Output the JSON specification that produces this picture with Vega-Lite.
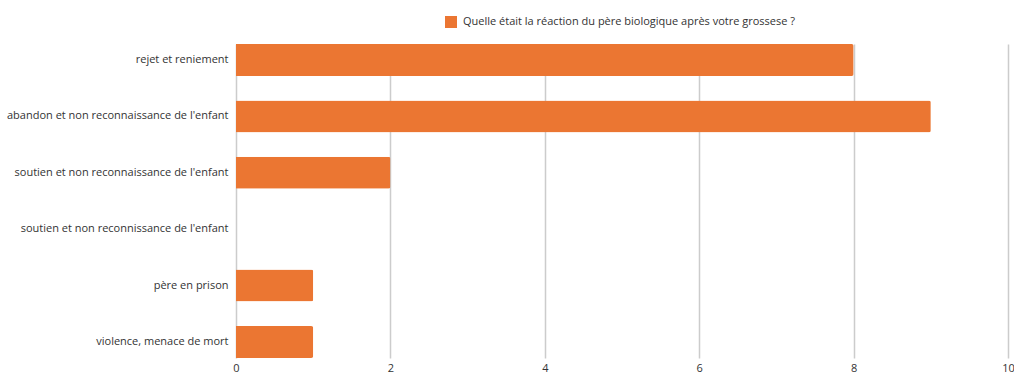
{
  "$schema": "https://vega.github.io/schema/vega-lite/v6.json",
  "width": 772,
  "height": 314,
  "autosize": {"type": "none"},
  "padding": {"left": 236, "top": 44, "right": 6, "bottom": 14},
  "background": "white",
  "config": {
    "font": "Open Sans",
    "view": {"stroke": null}
  },
  "data": {
    "values": [
      {"reponse": "rejet et reniement", "n": 8, "serie": "Quelle était la réaction du père biologique après votre grossese ?"},
      {"reponse": "abandon et non reconnaissance de l'enfant", "n": 9, "serie": "Quelle était la réaction du père biologique après votre grossese ?"},
      {"reponse": "soutien et non reconnaissance de l'enfant", "n": 2, "serie": "Quelle était la réaction du père biologique après votre grossese ?"},
      {"reponse": "soutien et non reconnissance de l'enfant", "n": 0, "serie": "Quelle était la réaction du père biologique après votre grossese ?"},
      {"reponse": "père en prison", "n": 1, "serie": "Quelle était la réaction du père biologique après votre grossese ?"},
      {"reponse": "violence, menace de mort", "n": 1, "serie": "Quelle était la réaction du père biologique après votre grossese ?"}
    ]
  },
  "mark": {"type": "bar", "cornerRadiusEnd": 2},
  "encoding": {
    "y": {
      "field": "reponse",
      "type": "nominal",
      "sort": null,
      "scale": {"paddingInner": 0.433, "paddingOuter": 0},
      "axis": {
        "title": null,
        "ticks": false,
        "domain": false,
        "labelPadding": 8,
        "labelFontSize": 11,
        "labelColor": "#333333",
        "labelFont": "Open Sans",
        "labelLimit": 300
      }
    },
    "x": {
      "field": "n",
      "type": "quantitative",
      "scale": {"domain": [0, 10], "nice": false},
      "axis": {
        "title": null,
        "values": [0, 2, 4, 6, 8, 10],
        "ticks": false,
        "domain": false,
        "grid": true,
        "gridColor": "#cccccc",
        "gridWidth": 1.5,
        "labelPadding": 4,
        "labelFontSize": 11,
        "labelColor": "#333333",
        "labelFont": "Open Sans",
        "labelFlush": false
      }
    },
    "color": {
      "field": "serie",
      "type": "nominal",
      "scale": {"range": ["#EB7632"]},
      "legend": {
        "title": null,
        "orient": "none",
        "legendX": 209,
        "legendY": -28,
        "symbolType": "square",
        "symbolSize": 144,
        "symbolStrokeWidth": 0,
        "labelFontSize": 11,
        "labelColor": "#333333",
        "labelFont": "Open Sans",
        "labelLimit": 500,
        "labelOffset": 6
      }
    }
  }
}
